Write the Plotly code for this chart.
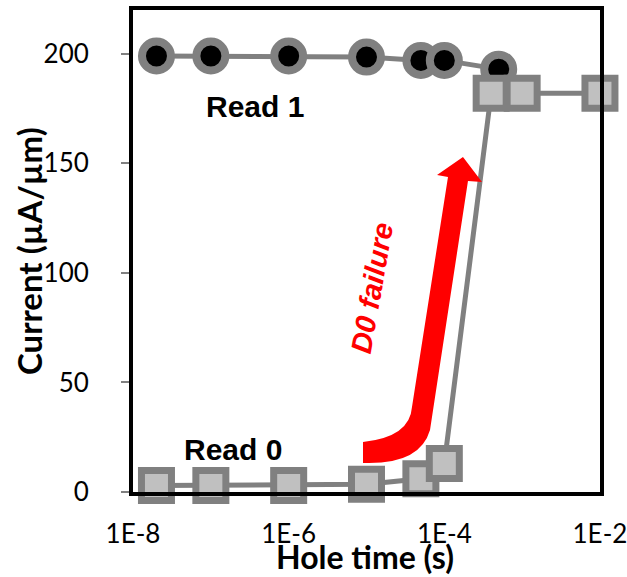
import plotly.graph_objects as go

# ---- data ----
read1_x = [2e-8, 1e-7, 1e-6, 1e-5, 5e-5, 1e-4, 5e-4]
read1_y = [199, 199, 199, 198.5, 197, 197, 193]
read0_x = [2e-8, 1e-7, 1e-6, 1e-5, 5e-5, 1e-4, 4e-4, 1e-3, 1e-2]
read0_y = [3, 3, 3, 3.5, 6, 13, 182, 182, 182]
x_tickvals = [1e-8, 1e-6, 1e-4, 1e-2]
x_ticktext = ["1E-8", "1E-6", "1E-4", "1E-2"]
y_tickvals = [0, 50, 100, 150, 200]

W, H = 627, 577
L, R, T, B = 133, 27, 10, 85
PW, PH = W - L - R, H - T - B

def px2paper(px, py):
    return (px - L) / PW, (H - B - py) / PH

GRAY = "#808080"
LIGHT = "#C0C0C0"

fig = go.Figure()
fig.add_trace(go.Scatter(
    x=read1_x, y=read1_y, mode="lines+markers",
    line=dict(color=GRAY, width=5),
    marker=dict(symbol="circle", size=29, color="black", line=dict(color=GRAY, width=8)),
    showlegend=False, cliponaxis=False))
fig.add_trace(go.Scatter(
    x=read0_x, y=read0_y, mode="lines+markers",
    line=dict(color=GRAY, width=5),
    marker=dict(symbol="square", size=30, color=LIGHT, line=dict(color=GRAY, width=7)),
    showlegend=False, cliponaxis=False))

# red curved arrow (decoration)
pts = [("M", [(363, 442)]), ("Q", [(410, 437), (412, 407)]), ("L", [(448, 177)]),
       ("L", [(437, 175)]), ("L", [(463, 157)]), ("L", [(482, 182)]), ("L", [(468, 181)]),
       ("L", [(430, 430)]), ("Q", [(420, 465), (363, 463)])]
path = ""
for cmd, ps in pts:
    path += cmd + " " + " ".join("%.4f,%.4f" % px2paper(*p) for p in ps) + " "
path += "Z"
fig.add_shape(type="path", path=path, xref="paper", yref="paper",
              fillcolor="#FF0000", line=dict(width=0), layer="above")

def note(px, py, text, size, family=None, color="black", angle=0):
    x, y = px2paper(px, py)
    f = dict(size=size, color=color)
    if family:
        f["family"] = family
    fig.add_annotation(x=x, y=y, xref="paper", yref="paper", text=text, showarrow=False,
                       xanchor="center", yanchor="middle", textangle=angle, font=f)

ARIAL = "Liberation Sans, Arial"
note(372, 288, "<b><i>D0 failure</i></b>", 29, ARIAL, "#FF0000", -80)
note(255, 107, "<b>Read 1</b>", 30, ARIAL)
note(233, 449, "<b>Read 0</b>", 30, ARIAL)
note(365, 556, "<b>Hole time (s)</b>", 32)
note(29, 251, "<b>Current (µA/µm)</b>", 33, angle=-90)

fig.update_layout(
    width=W, height=H,
    margin=dict(l=L, r=R, t=T, b=B),
    paper_bgcolor="white", plot_bgcolor="white",
    font=dict(family="Lato, Open Sans, sans-serif", color="black"),
    xaxis=dict(type="log", range=[-8.0005, -1.9995], tickvals=x_tickvals, ticktext=x_ticktext,
               showgrid=False, zeroline=False, showline=True, linecolor="black", linewidth=4,
               mirror=True, ticks="", tickfont=dict(size=26), ticklabelstandoff=16,
               ticklabeloverflow="allow", automargin=False),
    yaxis=dict(range=[0, 220], tickvals=y_tickvals,
               showgrid=False, zeroline=False, showline=True, linecolor="black", linewidth=4,
               mirror=True, ticks="outside", ticklen=8, tickcolor=GRAY, tickwidth=2,
               tickfont=dict(size=26), ticklabelstandoff=27, ticklabeloverflow="allow",
               automargin=False),
)

fig.write_html("out.html", config={"displayModeBar": False},
               post_script="document.body.style.margin='0';document.body.style.overflow='hidden';")
